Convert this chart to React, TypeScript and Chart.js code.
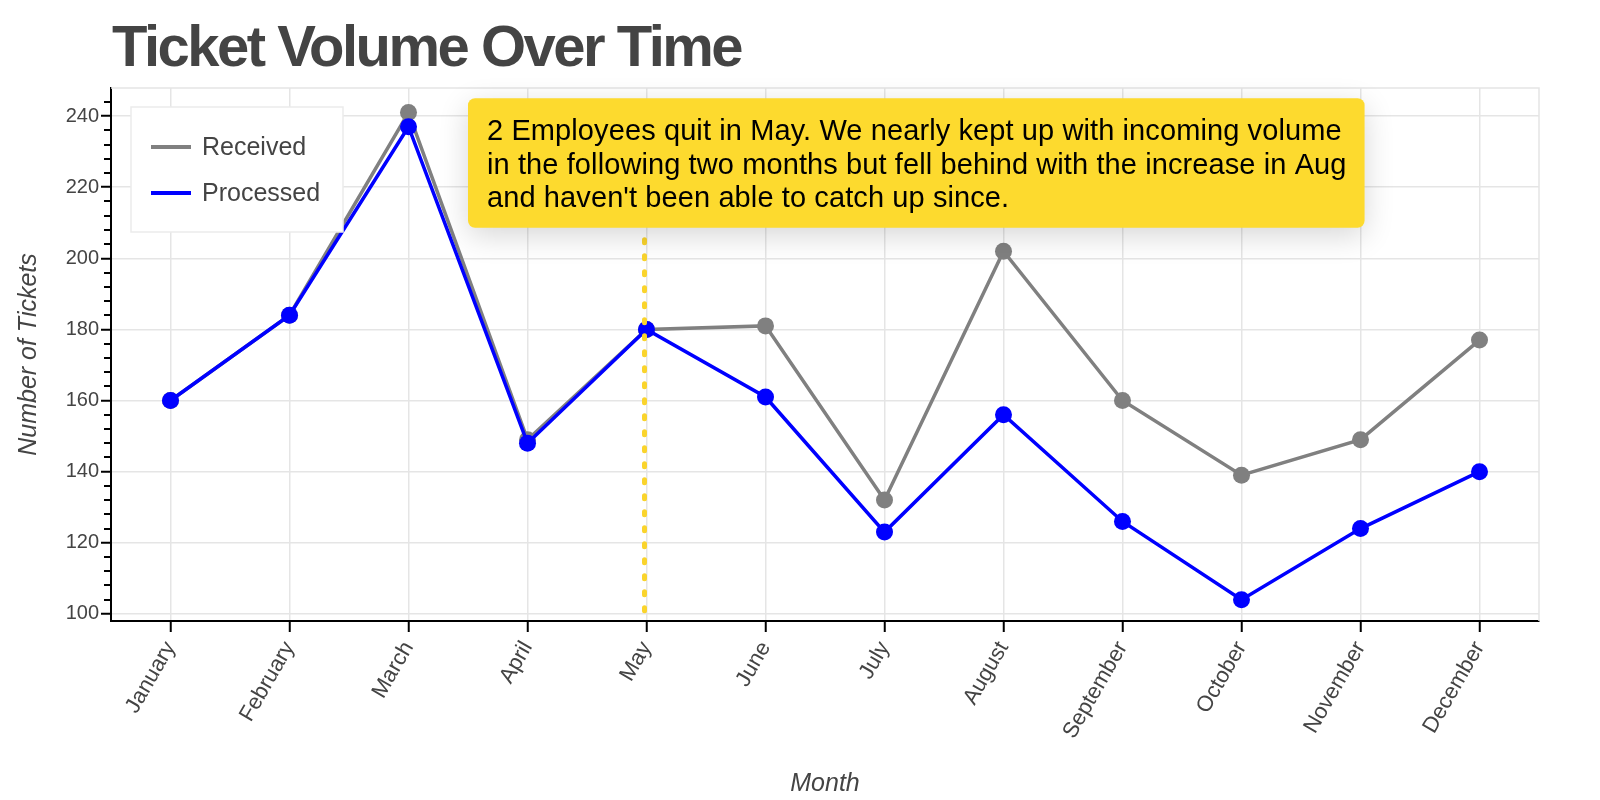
import React, { useEffect, useRef } from "react";
import { Chart, registerables } from "chart.js";

Chart.register(...registerables);

const months = [
  "January", "February", "March", "April", "May", "June",
  "July", "August", "September", "October", "November", "December",
];
const received = [160, 184, 241, 149, 180, 181, 132, 202, 160, 139, 149, 177];
const processed = [160, 184, 237, 148, 180, 161, 123, 156, 126, 104, 124, 140];
const yTicks = [100, 120, 140, 160, 180, 200, 220, 240];
const yMin = 98;
const yMax = 247.9;
const minorStep = 4;

const chartTitle = "Ticket Volume Over Time";
const xTitle = "Month";
const yTitle = "Number of Tickets";
const seriesLabels = ["Received", "Processed"];
const seriesColors = ["#808080", "#0000ff"];

const eventMonth = "May";
const eventLineTop = 205.2;
const annotationLines = [
  "2 Employees quit in May. We nearly kept up with incoming volume",
  "in the following two months but fell behind with the increase in Aug",
  "and haven't been able to catch up since.",
];

const FONT = "'Liberation Sans', Arial, Helvetica, sans-serif";
const TEXT = "#444444";
const GRID = "#e5e5e5";

const decorPlugin = {
  id: "decor",
  beforeDatasetsDraw(chart: any) {
    const { ctx, chartArea, scales } = chart;
    const y = scales.y;
    ctx.save();
    ctx.strokeStyle = GRID;
    ctx.lineWidth = 1.5;
    ctx.beginPath();
    ctx.moveTo(chartArea.left, chartArea.top);
    ctx.lineTo(chartArea.right, chartArea.top);
    ctx.lineTo(chartArea.right, chartArea.bottom);
    ctx.stroke();
    ctx.strokeStyle = "#000";
    ctx.lineWidth = 2;
    ctx.beginPath();
    for (let v = yTicks[0]; v <= yMax; v += minorStep) {
      if (yTicks.includes(v)) continue;
      if (v < yMin) continue;
      const py = Math.round(y.getPixelForValue(v));
      ctx.moveTo(chartArea.left, py);
      ctx.lineTo(chartArea.left - 7, py);
    }
    ctx.stroke();
    ctx.restore();
  },
  afterDatasetsDraw(chart: any) {
    const { ctx, chartArea, scales } = chart;
    const x = scales.x;
    const y = scales.y;
    ctx.save();
    const ex = x.getPixelForValue(months.indexOf(eventMonth)) - 2;
    ctx.strokeStyle = "#FAD42C";
    ctx.lineWidth = 5;
    ctx.lineCap = "round";
    ctx.setLineDash([3, 13]);
    ctx.beginPath();
    ctx.moveTo(ex, y.getPixelForValue(eventLineTop));
    ctx.lineTo(ex, y.getPixelForValue(yTicks[0]));
    ctx.stroke();
    ctx.setLineDash([]);
    ctx.lineCap = "butt";

    const lx = chartArea.left + 20;
    const ly = chartArea.top + 19;
    const lw = 212;
    const lh = 125;
    ctx.fillStyle = "#ffffff";
    ctx.fillRect(lx, ly, lw, lh);
    ctx.strokeStyle = "#ebebeb";
    ctx.lineWidth = 1.5;
    ctx.strokeRect(lx, ly, lw, lh);
    ctx.font = `25px ${FONT}`;
    ctx.textBaseline = "middle";
    ctx.textAlign = "left";
    chart.data.datasets
      .slice()
      .sort((a: any, b: any) => seriesLabels.indexOf(a.label) - seriesLabels.indexOf(b.label))
      .forEach((ds: any, i: number) => {
        const cy = ly + 40 + i * 46;
        ctx.strokeStyle = ds.borderColor;
        ctx.lineWidth = 4;
        ctx.beginPath();
        ctx.moveTo(lx + 20, cy);
        ctx.lineTo(lx + 60, cy);
        ctx.stroke();
        ctx.fillStyle = TEXT;
        ctx.fillText(ds.label, lx + 71, cy + 1);
      });

    ctx.font = `29px ${FONT}`;
    (ctx as any).letterSpacing = "0.1px";
    let maxW = 0;
    annotationLines.forEach((l) => {
      maxW = Math.max(maxW, ctx.measureText(l).width);
    });
    const bx = x.getPixelForValue(2.5);
    const by = y.getPixelForValue(245);
    const bw = maxW + 19 + 18;
    const bh = 129.5;
    ctx.save();
    ctx.shadowColor = "rgba(0,0,0,0.16)";
    ctx.shadowBlur = 30;
    ctx.shadowOffsetY = 8;
    ctx.fillStyle = "#FDDA2E";
    ctx.beginPath();
    ctx.roundRect(bx, by, bw, bh, 7);
    ctx.fill();
    ctx.restore();
    ctx.fillStyle = "#000000";
    ctx.textBaseline = "alphabetic";
    annotationLines.forEach((l, i) => {
      ctx.fillText(l, bx + 19, by + 42 + i * 33.5);
    });
    (ctx as any).letterSpacing = "0px";

    ctx.font = `bold 58px ${FONT}`;
    (ctx as any).letterSpacing = "-2.5px";
    ctx.fillStyle = TEXT;
    ctx.textBaseline = "alphabetic";
    ctx.fillText(chartTitle, chartArea.left + 1, 66);
    (ctx as any).letterSpacing = "0px";
    ctx.restore();
  },
};

export default function App() {
  const ref = useRef<HTMLCanvasElement | null>(null);

  useEffect(() => {
    document.body.style.margin = "0";
    const canvas = ref.current;
    if (!canvas) return;
    const chart = new Chart(canvas, {
      type: "line",
      data: {
        labels: months,
        datasets: [
          {
            label: seriesLabels[0],
            data: received,
            borderColor: seriesColors[0],
            backgroundColor: seriesColors[0],
            borderWidth: 3.5,
            pointRadius: 8.5,
            pointBorderWidth: 0,
            pointBackgroundColor: seriesColors[0],
            tension: 0,
            order: 1,
          },
          {
            label: seriesLabels[1],
            data: processed,
            borderColor: seriesColors[1],
            backgroundColor: seriesColors[1],
            borderWidth: 3.5,
            pointRadius: 8.5,
            pointBorderWidth: 0,
            pointBackgroundColor: seriesColors[1],
            tension: 0,
            order: 0,
          },
        ],
      },
      options: {
        animation: false,
        responsive: false,
        devicePixelRatio: 1,
        layout: { padding: { top: 88, right: 61, left: 0, bottom: 0 } },
        plugins: {
          legend: { display: false },
          title: { display: false },
          tooltip: { enabled: false },
        },
        scales: {
          x: {
            type: "category",
            offset: true,
            afterFit: (s: any) => {
              s.height = 179;
            },
            grid: {
              offset: false,
              color: GRID,
              lineWidth: 1.5,
              drawTicks: true,
              tickColor: "#000",
              tickWidth: 2,
              tickLength: 11,
            },
            border: { color: "#000", width: 2 },
            ticks: {
              color: TEXT,
              font: { size: 22, family: FONT },
              minRotation: 60,
              maxRotation: 60,
              autoSkip: false,
              padding: 5,
            },
            title: {
              display: true,
              text: xTitle,
              color: TEXT,
              font: { size: 25, style: "italic", family: FONT },
              padding: { top: 0, bottom: 1 },
            },
          },
          y: {
            type: "linear",
            min: yMin,
            max: yMax,
            afterBuildTicks: (s: any) => {
              s.ticks = yTicks.map((v) => ({ value: v }));
            },
            afterFit: (s: any) => {
              s.width = 111;
            },
            grid: {
              color: GRID,
              lineWidth: 1.5,
              drawTicks: true,
              tickColor: "#000",
              tickWidth: 2,
              tickLength: 10,
            },
            border: { color: "#000", width: 2 },
            ticks: {
              color: TEXT,
              font: { size: 20, family: FONT },
              padding: 2,
            },
            title: {
              display: true,
              text: yTitle,
              color: TEXT,
              font: { size: 25, style: "italic", family: FONT },
              padding: { top: 14, bottom: 0 },
            },
          },
        },
      },
      plugins: [decorPlugin],
    });
    return () => chart.destroy();
  }, []);

  return <canvas ref={ref} width={1600} height={800} style={{ display: "block" }} />;
}
